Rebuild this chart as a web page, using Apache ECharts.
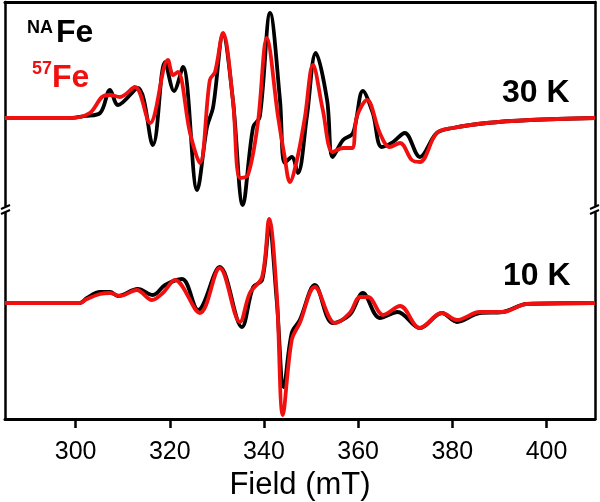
<!DOCTYPE html>
<html>
<head>
<meta charset="utf-8">
<script src="https://cdn.jsdelivr.net/npm/echarts@6/dist/echarts.min.js"></script>
<style>
html,body{margin:0;padding:0;background:#fff;}
#chart{width:600px;height:502px;}
</style>
</head>
<body>
<div id="chart"></div>
<script>
// 30 K spectra (upper panel), field in mT, intensity in arbitrary units
var fieldNA30 = [285, 298.8, 302.0, 305.2, 307.3, 309.0, 313.2, 316.4, 319.0, 320.9, 322.8, 325.8, 327.9, 329.2, 331.3, 333.4, 335.5, 337.7, 339.1, 341.3, 343.4, 344.4, 345.9, 347.2, 349.1, 351.0, 353.4, 354.6, 356.8, 358.9, 361.0, 363.1, 365.0, 367.4, 369.9, 373.1, 376.7, 380.1, 387.3, 396.5, 410.3];
var na30 = [0, 0, 2, 5, 28, 13, 30, -27, 56, 27, 51, -72, -9, 11, 83, 18, -87, -9, 1, 105, 18, -45, -39, -55, 1, 65, 18, -39, -22, -15, 27, 5, -29, -24, -15, -39, -15, -10, -5, -2, 0];
var field5730 = [285, 298.8, 303.0, 305.6, 307.3, 309.4, 312.6, 315.8, 319.6, 320.7, 321.7, 324.3, 326.4, 328.5, 329.6, 331.3, 333.4, 334.9, 336.6, 338.7, 340.6, 343.0, 344.4, 345.5, 347.0, 348.7, 350.4, 352.5, 354.6, 356.8, 358.7, 359.7, 361.9, 364.6, 366.7, 368.9, 371.4, 373.1, 376.7, 380.1, 387.3, 396.5, 410.3];
var fe5730 = [0, 0, 5, 21, 23, 21, 31, -5, 58, 43, 46, -15, -45, 38, 46, 85, 18, -60, -57, -5, 80, 1, -39, -64, -42, 1, 53, 8, -34, -30, -30, 1, 18, -15, -29, -25, -42, -44, -15, -10, -5, -2, 0];

// 10 K spectra (lower panel)
var fieldNA10 = [285, 300.9, 302.4, 305.2, 307.3, 309.0, 313.2, 316.4, 319.0, 322.6, 326.0, 330.6, 335.3, 337.7, 339.6, 341.1, 342.7, 344.2, 345.9, 347.6, 350.8, 354.6, 358.2, 361.0, 364.6, 368.4, 373.1, 377.8, 381.0, 385.8, 390.7, 395.8, 410.3];
var na10 = [0, 0, 5, 11, 11, 7, 14, 8, 18, 24, -7, 36, -24, 16, 23, 75, 3, -84, -30, -17, 18, -20, -12, 10, -15, -9, -25, -10, -19, -10, -9, -1, 0];
var field5710 = [285, 300.9, 302.4, 305.2, 307.3, 309.4, 313.0, 316.2, 318.5, 321.1, 326.4, 330.6, 334.9, 337.0, 339.6, 341.1, 342.7, 344.0, 345.9, 347.6, 350.8, 355.1, 358.2, 360.4, 362.1, 365.3, 368.9, 373.1, 377.8, 381.0, 385.8, 390.7, 395.8, 410.3];
var fe5710 = [0, 0, 4, 9, 10, 7, 13, 3, 10, 23, -10, 35, -19, 10, 26, 84, 10, -112, -37, -20, 16, -20, -10, 6, 6, -12, -3, -25, -10, -17, -9, -9, -1, 0];

var xTicks = [300, 320, 340, 360, 380, 400];

function pairs(xs, ys){
  var out = [];
  xs.forEach(function(x, i){ out.push([x, ys[i]]); });
  return out;
}

var chart = echarts.init(document.getElementById('chart'));
var lineW = 3.8;
var black = '#000000', red = '#f01010';
var font = 'Liberation Sans, Arial, sans-serif';

function frameY(grid, min, max, pos){
  return {
    gridIndex: grid, type: 'value', min: min, max: max, position: pos,
    axisLine: {show: true, onZero: false, lineStyle: {color: '#000', width: 2.5}},
    axisTick: {show: false}, axisLabel: {show: false}, splitLine: {show: false}
  };
}

var option = {
  animation: false,
  grid: [
    {left: 5, right: 5, top: 2, height: 204},
    {left: 5, right: 5, top: 213, height: 206}
  ],
  xAxis: [
    {
      gridIndex: 0, type: 'value', min: 285, max: 410.3, position: 'top',
      axisLine: {show: true, onZero: false, lineStyle: {color: '#000', width: 3}},
      axisTick: {show: false}, axisLabel: {show: false}, splitLine: {show: false}
    },
    {
      gridIndex: 1, type: 'value', min: 285, max: 410.3, position: 'bottom',
      axisLine: {show: true, onZero: false, lineStyle: {color: '#000', width: 3}},
      axisTick: {show: true, inside: false, length: 9, customValues: xTicks, lineStyle: {color: '#000', width: 2.5}},
      axisLabel: {fontFamily: font, fontSize: 25, color: '#000', margin: 21, customValues: xTicks},
      splitLine: {show: false},
      name: 'Field (mT)', nameLocation: 'middle', nameGap: 51,
      nameTextStyle: {fontFamily: font, fontSize: 31, color: '#000'}
    }
  ],
  yAxis: [
    frameY(0, -88, 116, 'left'),
    frameY(0, -88, 116, 'right'),
    frameY(1, -116, 90, 'left'),
    frameY(1, -116, 90, 'right')
  ],
  series: [
    {type: 'line', xAxisIndex: 0, yAxisIndex: 0, data: pairs(fieldNA30, na30), showSymbol: false, smooth: 0.35, clip: false,
      lineStyle: {color: black, width: lineW}},
    {type: 'line', xAxisIndex: 0, yAxisIndex: 0, data: pairs(field5730, fe5730), showSymbol: false, smooth: 0.35, clip: false,
      lineStyle: {color: red, width: lineW}},
    {type: 'line', xAxisIndex: 1, yAxisIndex: 2, data: pairs(fieldNA10, na10), showSymbol: false, smooth: 0.35, clip: false,
      lineStyle: {color: black, width: lineW}},
    {type: 'line', xAxisIndex: 1, yAxisIndex: 2, data: pairs(field5710, fe5710), showSymbol: false, smooth: 0.35, clip: false,
      lineStyle: {color: red, width: lineW}}
  ],
  graphic: [
    {type: 'text', left: 27, top: 19, style: {text: 'NA', fontSize: 18, fontWeight: 'bold', fill: black, fontFamily: font}},
    {type: 'text', left: 56, top: 17, style: {text: 'Fe', fontSize: 32, fontWeight: 'bold', fill: black, fontFamily: font}},
    {type: 'text', left: 32, top: 60, style: {text: '57', fontSize: 18, fontWeight: 'bold', fill: red, fontFamily: font}},
    {type: 'text', left: 52, top: 62, style: {text: 'Fe', fontSize: 32, fontWeight: 'bold', fill: red, fontFamily: font}},
    {type: 'text', left: 502, top: 77, style: {text: '30 K', fontSize: 32, fontWeight: 'bold', fill: black, fontFamily: font}},
    {type: 'text', left: 503, top: 260, style: {text: '10 K', fontSize: 32, fontWeight: 'bold', fill: black, fontFamily: font}},
    // axis break marks
    {type: 'line', shape: {x1: 1, y1: 209, x2: 10, y2: 205}, style: {stroke: '#000', lineWidth: 2}},
    {type: 'line', shape: {x1: 1, y1: 214, x2: 10, y2: 210}, style: {stroke: '#000', lineWidth: 2}},
    {type: 'line', shape: {x1: 590, y1: 209, x2: 599, y2: 205}, style: {stroke: '#000', lineWidth: 2}},
    {type: 'line', shape: {x1: 590, y1: 214, x2: 599, y2: 210}, style: {stroke: '#000', lineWidth: 2}}
  ]
};
chart.setOption(option);
</script>
</body>
</html>
